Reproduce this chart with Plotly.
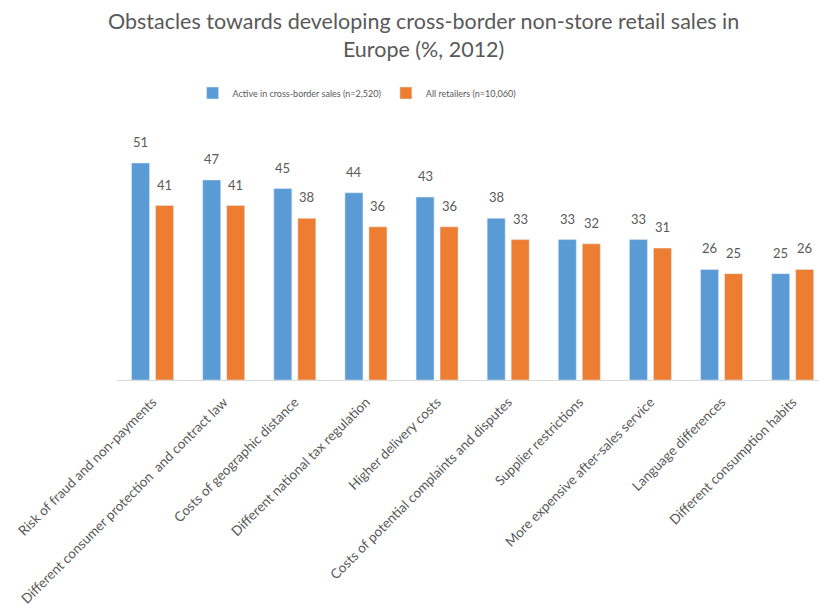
import plotly.graph_objects as go

categories = [
    "Risk of fraud and non-payments",
    "Different consumer protection  and contract law",
    "Costs of geographic distance",
    "Different national tax regulation",
    "Higher delivery costs",
    "Costs of potential complaints and disputes",
    "Supplier restrictions",
    "More expensive after-sales service",
    "Language differences",
    "Different consumption habits",
]
active = [51, 47, 45, 44, 43, 38, 33, 33, 26, 25]
all_retailers = [41, 41, 38, 36, 36, 33, 32, 31, 25, 26]

series_names = ["Active in cross-border sales (n=2,520)", "All retailers (n=10,060)"]
colors = ["#5b9bd5", "#ed7d31"]
FONT = "Lato, 'Open Sans', sans-serif"
GREY = "#595959"

fig = go.Figure()
for name, vals, col in zip(series_names, [active, all_retailers], colors):
    fig.add_trace(go.Bar(x=categories, y=vals, name=name, marker_color=col))

# data labels above each bar
for vals, shift in zip([active, all_retailers], [-12, 12]):
    for c, v in zip(categories, vals):
        fig.add_annotation(
            x=c, y=v, text=str(v), showarrow=False,
            xshift=shift, yshift=11, yanchor="bottom",
            font=dict(family=FONT, size=13, color=GREY),
        )

fig.add_annotation(
    text="Obstacles towards developing cross-border non-store retail sales in<br>Europe (%, 2012)",
    xref="paper", yref="paper", x=0.437, y=1 + (146 - 35) / 234,
    xanchor="center", yanchor="middle", showarrow=False,
    font=dict(family=FONT, size=21.5, color=GREY),
)

fig.update_layout(
    width=819, height=608,
    paper_bgcolor="white", plot_bgcolor="white",
    margin=dict(l=117, r=0, t=146, b=228),
    barmode="group", bargap=0.325, bargroupgap=0.25,
    legend=dict(
        orientation="h", x=0.436, xanchor="center", xref="container",
        y=1 - 93 / 608, yref="container", yanchor="middle",
        font=dict(family=FONT, size=9, color=GREY),
        itemwidth=30, traceorder="normal",
    ),
    showlegend=True,
    xaxis=dict(
        range=[-0.5, 9.37], showline=True, linecolor="#d9d9d9", linewidth=1,
        tickangle=-45, tickfont=dict(family=FONT, size=13.5, color=GREY),
        ticks="", showgrid=False, ticklabelstandoff=8,
    ),
    yaxis=dict(range=[0, 55], visible=False, showgrid=False),
    font=dict(family=FONT, color=GREY),
)

fig.write_html("out.html")
